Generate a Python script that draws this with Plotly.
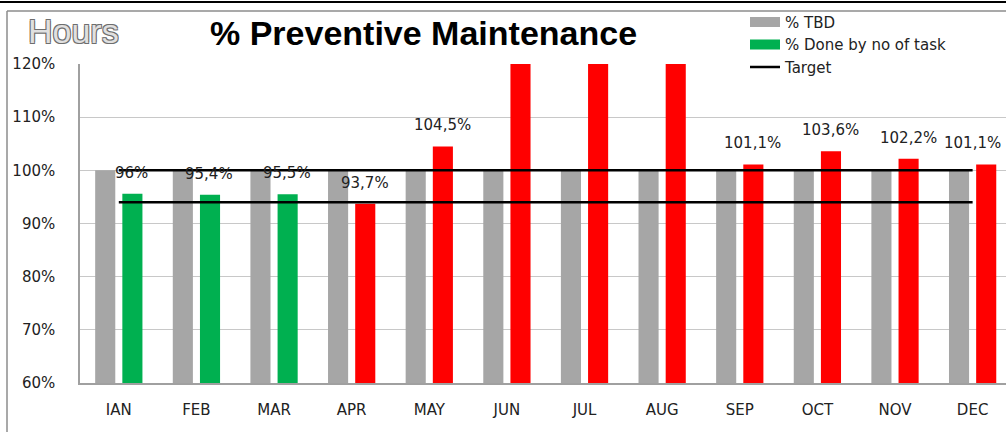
import plotly.graph_objects as go

months = ["IAN", "FEB", "MAR", "APR", "MAY", "JUN", "JUL", "AUG", "SEP", "OCT", "NOV", "DEC"]
tbd = [100, 100, 100, 100, 100, 100, 100, 100, 100, 100, 100, 100]
done = [95.6, 95.4, 95.5, 93.7, 104.5, 125, 125, 125, 101.1, 103.6, 102.2, 101.1]
done_labels = ["96%", "95,4%", "95,5%", "93,7%", "104,5%", "", "", "", "101,1%", "103,6%", "102,2%", "101,1%"]
target_low = [94] * 12
target_high = [100] * 12
y_ticks = [60, 70, 80, 90, 100, 110, 120]

GREY = "#a6a6a6"
GREEN = "#00b050"
RED = "#ff0000"
done_colors = [GREEN if i < 3 else RED for i in range(len(months))]

fig = go.Figure()
fig.add_trace(go.Bar(x=months, y=tbd, name="% TBD", showlegend=False,
                     marker=dict(color=GREY, line=dict(width=0))))
fig.add_trace(go.Bar(x=months, y=done, name="% Done by no of task", showlegend=False,
                     marker=dict(color=done_colors, line=dict(width=0))))
fig.add_trace(go.Scatter(x=months, y=target_high, mode="lines", name="Target", showlegend=False,
                         line=dict(color="black", width=2.5)))
fig.add_trace(go.Scatter(x=months, y=target_low, mode="lines", name="Target low", showlegend=False,
                         line=dict(color="black", width=2.5)))

# legend entries (legend-only swatches)
fig.add_trace(go.Scatter(x=[None], y=[None], mode="lines", name="% TBD",
                         line=dict(color=GREY, width=10)))
fig.add_trace(go.Scatter(x=[None], y=[None], mode="lines", name="% Done by no of task",
                         line=dict(color=GREEN, width=10)))
fig.add_trace(go.Scatter(x=[None], y=[None], mode="lines", name="Target",
                         line=dict(color="black", width=2.5)))

n = len(months)
for i, (m, v, t) in enumerate(zip(months, done, done_labels)):
    if t:
        fig.add_annotation(x=m, y=v, text=t, showarrow=False,
                           xshift=13 if i < n - 1 else 0, yshift=10,
                           yanchor="bottom", font=dict(family="DejaVu Sans", size=15, color="#222"))

# titles
fig.add_annotation(xref="paper", yref="paper", x=(423 - 80) / 926, y=(382 - 33) / 318,
                   text="<b>% Preventive Maintenance</b>", showarrow=False,
                   xanchor="center", yanchor="middle",
                   font=dict(family="Liberation Sans", size=34, color="black"))
fig.add_annotation(xref="paper", yref="paper", x=(26 - 80) / 926, y=(382 - 31) / 318,
                   text="Hours", showarrow=False, xanchor="left", yanchor="middle",
                   font=dict(family="Liberation Sans", size=34, color="#e0e0e0",
                             shadow="1px 1px 0 #6e6e6e, -1px -1px 0 #6e6e6e, 1px -1px 0 #6e6e6e, -1px 1px 0 #6e6e6e"))

# outer frame (left and top edges) and top line
fig.add_shape(type="line", xref="paper", yref="paper", xsizemode="pixel", ysizemode="pixel",
              xanchor=0, yanchor=0, x0=-73, x1=-73, y0=-60, y1=372,
              line=dict(color="#8c8c8c", width=1.5), layer="below")
fig.add_shape(type="line", xref="paper", yref="paper", xsizemode="pixel", ysizemode="pixel",
              xanchor=0, yanchor=0, x0=-73, x1=926, y0=372, y1=372,
              line=dict(color="#8c8c8c", width=1.5), layer="below")
fig.add_shape(type="line", xref="paper", yref="paper", xsizemode="pixel", ysizemode="pixel",
              xanchor=0, yanchor=0, x0=-80, x1=926, y0=381, y1=381,
              line=dict(color="black", width=2))

fig.update_layout(
    width=1006, height=432,
    margin=dict(l=80, r=0, t=64, b=49),
    paper_bgcolor="white", plot_bgcolor="white",
    barmode="group", bargap=0.30, bargroupgap=0.26,
    showlegend=True,
    legend=dict(x=(745 - 80) / 926, y=(382 - 6) / 318, xanchor="left", yanchor="top",
                font=dict(family="DejaVu Sans", size=15, color="#222"),
                bgcolor="rgba(0,0,0,0)", tracegroupgap=0),
    font=dict(family="DejaVu Sans", size=15, color="#222"),
    xaxis=dict(type="category", range=[-0.5, 11.43], showgrid=False, ticks="",
               showline=True, linecolor="#a0a0a0", linewidth=1.5,
               tickfont=dict(size=15), ticklabelstandoff=12),
    yaxis=dict(range=[60, 120], tickvals=y_ticks, ticktext=[f"{v}%" for v in y_ticks],
               showgrid=True, gridcolor="#c8c8c8", gridwidth=1, zeroline=False,
               showline=True, linecolor="#a0a0a0", linewidth=1.5, ticks="",
               tickfont=dict(size=15), ticklabelstandoff=20),
)

fig.write_html("out.html", config={"displayModeBar": False},
               post_script="document.body.style.margin='0';")
